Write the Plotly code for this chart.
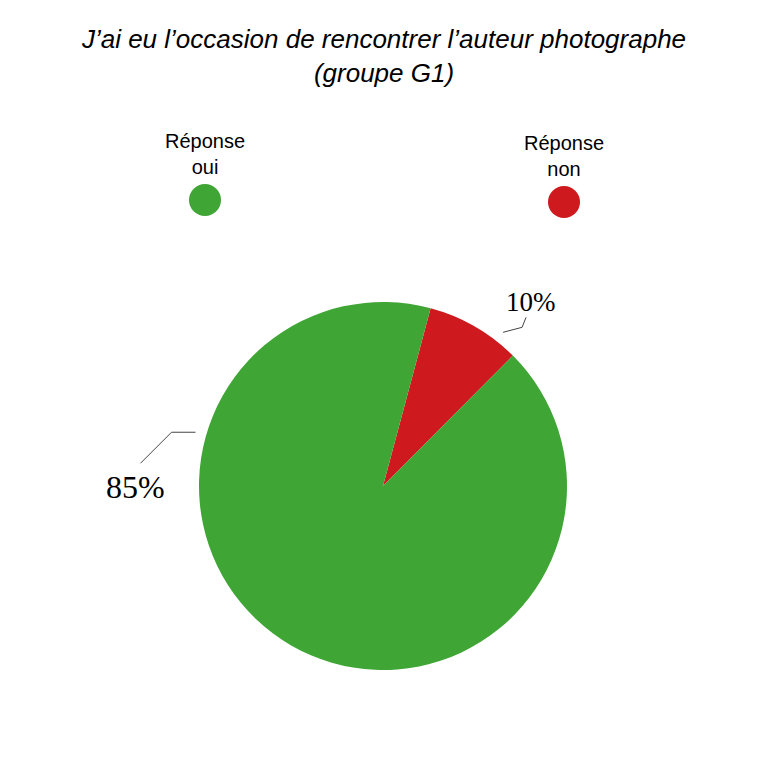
import math
import plotly.graph_objects as go

W = H = 768
OFF = 8  # the page body adds an 8px margin

# data
categories = ["Réponse non", "Réponse oui"]
shares = [8.3, 91.7]  # slice sizes as drawn (30 deg / 330 deg)
slice_labels = ["10%", "85%"]
colors = ["#CE1A1E", "#3FA535"]
legend_text = ["Réponse<br>oui", "Réponse<br>non"]
legend_colors = ["#3FA535", "#CE1A1E"]

# pie geometry (pixels in the screenshot)
cx, cy, r = 383, 486, 184
rotation = 15


def paper(x, y):
    return (x - OFF) / W, 1 - (y - OFF) / H


fig = go.Figure()

x0, y1 = paper(cx - r, cy - r)
x1, y0 = paper(cx + r, cy + r)
fig.add_trace(
    go.Pie(
        labels=categories,
        values=shares,
        marker=dict(colors=colors, line=dict(width=0)),
        sort=False,
        direction="clockwise",
        rotation=rotation,
        textinfo="none",
        hoverinfo="label+percent",
        showlegend=False,
        domain=dict(x=[x0, x1], y=[y0, y1]),
    )
)

# legend drawn as markers with the text above
fig.add_trace(
    go.Scatter(
        x=[0, 1],
        y=[0, -0.02],
        mode="markers+text",
        marker=dict(size=32, color=legend_colors),
        text=legend_text,
        textposition="top center",
        textfont=dict(family="Liberation Sans", size=20, color="#000000"),
        hoverinfo="skip",
        showlegend=False,
    )
)

# slice label positions and leader lines
label_spec = {
    "10%": dict(size=27, elbow=(19, -5), tip=(4, -10), text=(5, -15)),
    "85%": dict(size=32, elbow=(-24, 0), tip=(-31, 31), text=(-5, 24)),
}
# leader start angles as drawn in the reference
lead_angles = {"10%": 38, "85%": 286}

for lab in slice_labels:
    spec = label_spec[lab]
    a = math.radians(lead_angles[lab])
    sx = cx + 1.06 * r * math.sin(a)
    sy = cy - 1.06 * r * math.cos(a)
    ex, ey = sx + spec["elbow"][0], sy + spec["elbow"][1]
    tx, ty = ex + spec["tip"][0], ey + spec["tip"][1]
    p = [paper(sx, sy), paper(ex, ey), paper(tx, ty)]
    fig.add_shape(
        type="path",
        xref="paper",
        yref="paper",
        path=f"M {p[0][0]},{p[0][1]} L {p[1][0]},{p[1][1]} L {p[2][0]},{p[2][1]}",
        line=dict(color="#444444", width=1),
    )
    lx, ly = paper(tx + spec["text"][0], ty + spec["text"][1])
    fig.add_annotation(
        x=lx,
        y=ly,
        xref="paper",
        yref="paper",
        text=lab,
        showarrow=False,
        font=dict(family="Liberation Serif", size=spec["size"], color="#000000"),
        xanchor="center",
        yanchor="middle",
    )

gx, _ = paper(205, 0)
rx, _ = paper(564, 0)
_, ly_top = paper(0, 100)
_, ly_bot = paper(0, 300)
fig.update_layout(
    width=W,
    height=H,
    margin=dict(l=0, r=0, t=0, b=0),
    paper_bgcolor="white",
    plot_bgcolor="white",
    title=dict(
        text="J’ai eu l’occasion de rencontrer l’auteur photographe<br>(groupe G1)",
        x=0.5 - OFF / W,
        xanchor="center",
        y=1 - 40 / H,
        yanchor="top",
        yref="container",
        font=dict(family="Liberation Sans", size=26, color="#000000", style="italic"),
    ),
    xaxis=dict(
        range=[-gx / (rx - gx), (1 - gx) / (rx - gx)],
        domain=[0, 1],
        visible=False,
        fixedrange=True,
    ),
    yaxis=dict(
        range=[-1, 1],
        domain=[ly_bot, ly_top],
        visible=False,
        fixedrange=True,
    ),
)

fig.write_html("out.html")
